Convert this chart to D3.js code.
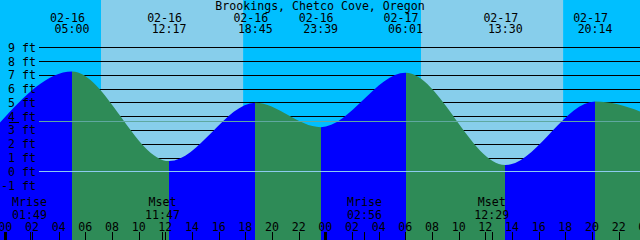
<!DOCTYPE html>
<html>
<head>
<meta charset="utf-8">
<script src="https://cdn.jsdelivr.net/npm/d3@7"></script>
<style>
  body { margin: 0; background: #fff; }
  svg { display: block; }
  text { font-family: "DejaVu Sans Mono", monospace; font-size: 11.6px; fill: #000; }
</style>
</head>
<body>
<div id="chart"></div>
<script>
// Data (hours counted from 02-16 00:00)
const title = "Brookings, Chetco Cove, Oregon";

const tideHours = [-1.0, 5.0, 12.283, 18.75, 23.65, 30.017, 37.5, 44.233, 50.2];
const tideFeet = [2.88, 7.25, 0.74, 4.97, 3.2, 7.15, 0.45, 5.07, 3.2];
const tideDates = ["", "02-16", "02-16", "02-16", "02-16", "02-17", "02-17", "02-17", ""];
const tideTimes = ["", "05:00", "12:17", "18:45", "23:39", "06:01", "13:30", "20:14", ""];

const sunriseHours = [7.175, 31.175];
const sunsetHours = [17.83, 41.83];

const moonHours = [1.817, 11.783, 26.933, 36.483];
const moonNames = ["Mrise", "Mset", "Mrise", "Mset"];
const moonTimes = ["01:49", "11:47", "02:56", "12:29"];

const footTicks = [-1, 0, 1, 2, 3, 4, 5, 6, 7, 8, 9];
const meanLevel = 3.68;
const hourTicks = d3.range(0, 50, 2);

function draw() {
  const dimensions = { width: 640, height: 240, plotLeft: 39 };

  const svg = d3
    .select("#chart")
    .append("svg")
    .attr("width", dimensions.width)
    .attr("height", dimensions.height);

  // Scales
  const xScale = d3.scaleLinear().domain([-0.4, 47.6]).range([0, 640]);
  const yScale = d3.scaleLinear().domain([0, 9]).range([171.3, 47.3]);

  // Sky: night / day bands
  const skyBreaks = [-0.4, sunriseHours[0], sunsetHours[0], sunriseHours[1], sunsetHours[1], 47.6];
  svg
    .selectAll(".sky")
    .data(d3.pairs(skyBreaks))
    .join("rect")
    .attr("x", (d) => xScale(d[0]))
    .attr("y", 0)
    .attr("width", (d) => xScale(d[1]) - xScale(d[0]))
    .attr("height", dimensions.height)
    .attr("fill", (d, i) => (i % 2 ? "#87ceeb" : "#00bfff"));

  // foot lines (behind water)
  svg
    .selectAll(".grid")
    .data(footTicks)
    .join("line")
    .attr("x1", dimensions.plotLeft)
    .attr("x2", dimensions.width)
    .attr("y1", (d) => Math.round(yScale(d)) + 0.5)
    .attr("y2", (d) => Math.round(yScale(d)) + 0.5)
    .attr("stroke", "#000")
    .attr("stroke-width", 1);

  // Water
  const tide = tideHours.map((h, i) => ({ h, ft: tideFeet[i] }));
  const area = d3
    .area()
    .x((d) => xScale(d.h))
    .y0(dimensions.height)
    .y1((d) => yScale(d.ft))
    .curve(d3.curveMonotoneX);

  svg
    .append("clipPath")
    .attr("id", "water")
    .append("path")
    .datum(tide)
    .attr("d", area);

  svg
    .append("g")
    .attr("clip-path", "url(#water)")
    .selectAll("rect")
    .data(d3.pairs(tide))
    .join("rect")
    .attr("x", (d) => Math.round(xScale(d[0].h)))
    .attr("y", 0)
    .attr("width", (d) => Math.round(xScale(d[1].h)) - Math.round(xScale(d[0].h)))
    .attr("height", dimensions.height)
    .attr("fill", (d) => (d[1].ft > d[0].ft ? "#0000ff" : "#2e8b57"));

  // datum and mean level lines
  svg
    .append("line")
    .attr("x1", dimensions.plotLeft)
    .attr("x2", dimensions.width)
    .attr("y1", Math.round(yScale(0)) + 0.5)
    .attr("y2", Math.round(yScale(0)) + 0.5)
    .attr("stroke", "#8ccbf0");

  svg
    .append("line")
    .attr("x1", dimensions.plotLeft)
    .attr("x2", dimensions.width)
    .attr("y1", Math.round(yScale(meanLevel)) + 0.5)
    .attr("y2", Math.round(yScale(meanLevel)) + 0.5)
    .attr("stroke", "#5fa8a0");

  svg
    .append("line")
    .attr("x1", 9)
    .attr("x2", 19)
    .attr("y1", Math.round(yScale(meanLevel)) + 1.5)
    .attr("y2", Math.round(yScale(meanLevel)) + 1.5)
    .attr("stroke", "#000");

  // foot labels
  svg
    .selectAll(".ftlabel")
    .data(footTicks)
    .join("text")
    .attr("x", 36)
    .attr("y", (d) => yScale(d) + 4.5)
    .attr("text-anchor", "end")
    .text((d) => `${d} ft`);

  // Title
  svg
    .append("text")
    .attr("x", 320)
    .attr("y", 10)
    .attr("text-anchor", "middle")
    .text(title);

  // tide event labels
  const events = tide
    .map((d, i) => ({ ...d, date: tideDates[i], time: tideTimes[i] }))
    .filter((d) => d.time !== "");

  svg
    .selectAll(".tdate")
    .data(events)
    .join("text")
    .attr("x", (d) => xScale(d.h) - 4.5)
    .attr("y", 21.7)
    .attr("text-anchor", "middle")
    .text((d) => d.date);

  svg
    .selectAll(".ttime")
    .data(events)
    .join("text")
    .attr("x", (d) => xScale(d.h))
    .attr("y", 33.3)
    .attr("text-anchor", "middle")
    .text((d) => d.time);

  // moon labels
  svg
    .selectAll(".mname")
    .data(moonHours)
    .join("text")
    .attr("x", (d) => xScale(d))
    .attr("y", 206)
    .attr("text-anchor", "middle")
    .text((d, i) => moonNames[i]);

  svg
    .selectAll(".mtime")
    .data(moonHours)
    .join("text")
    .attr("x", (d) => xScale(d))
    .attr("y", 218.5)
    .attr("text-anchor", "middle")
    .text((d, i) => moonTimes[i]);

  // hour axis
  svg
    .selectAll(".hlabel")
    .data(hourTicks)
    .join("text")
    .attr("x", (d) => xScale(d))
    .attr("y", 230.7)
    .attr("text-anchor", "middle")
    .text((d) => String(d % 24).padStart(2, "0"));

  svg
    .selectAll(".htick")
    .data(hourTicks)
    .join("line")
    .attr("x1", (d) => Math.round(xScale(d)) + 0.5)
    .attr("x2", (d) => Math.round(xScale(d)) + 0.5)
    .attr("y1", 232)
    .attr("y2", dimensions.height)
    .attr("stroke", "#000")
    .attr("stroke-width", (d) => (d % 24 === 0 ? 3 : 1));

  svg
    .selectAll(".mtick")
    .data(moonHours)
    .join("line")
    .attr("x1", (d) => Math.round(xScale(d)) + 0.5)
    .attr("x2", (d) => Math.round(xScale(d)) + 0.5)
    .attr("y1", 232)
    .attr("y2", dimensions.height)
    .attr("stroke", "#000");
}

draw();
</script>
</body>
</html>
